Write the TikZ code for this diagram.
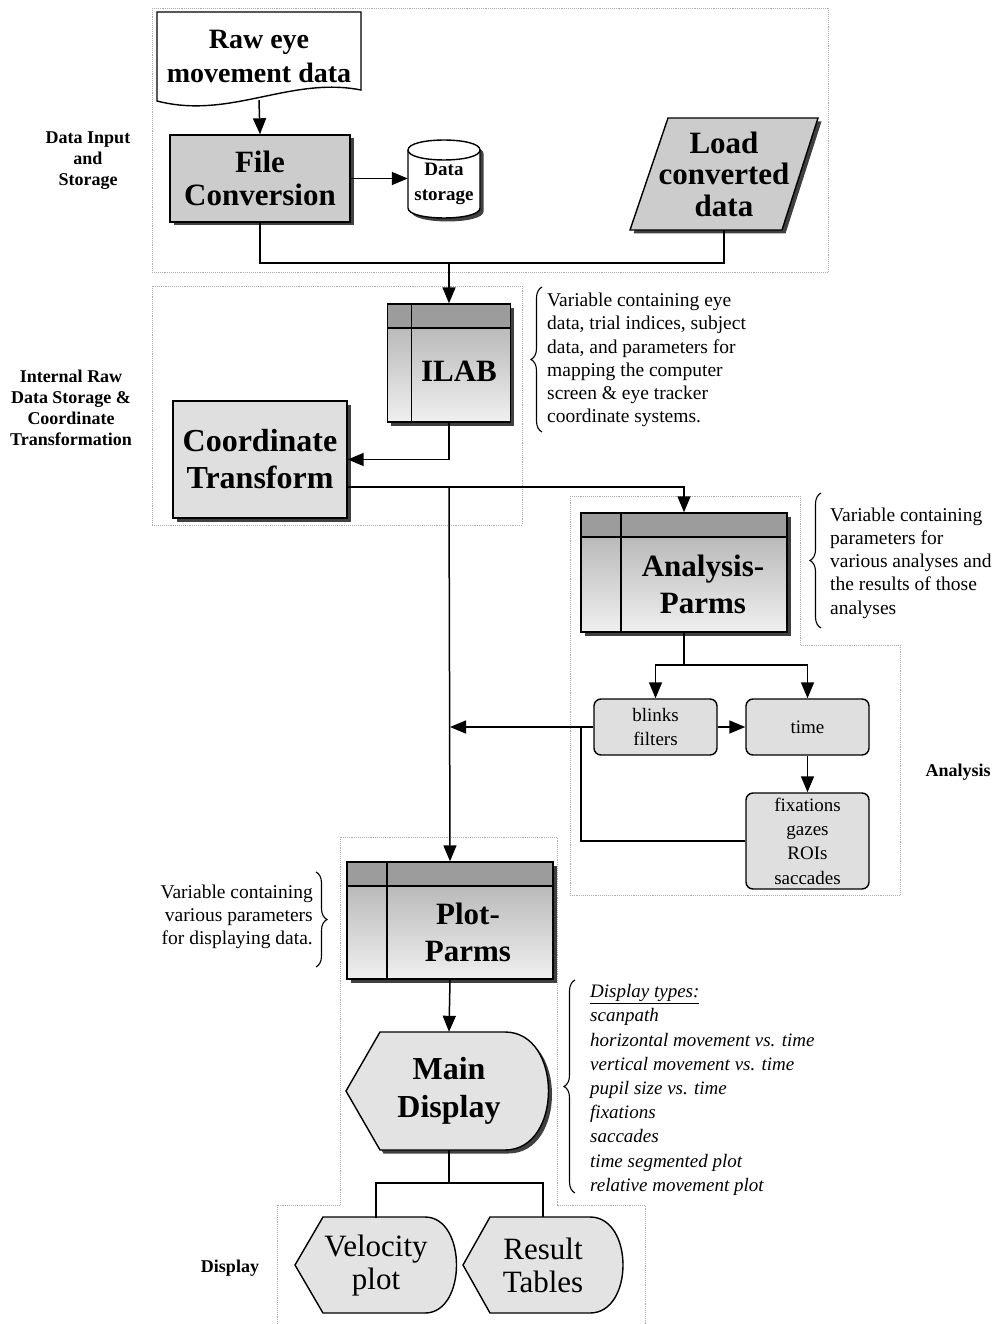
\documentclass[tikz,border=0pt]{standalone}
\usepackage{fontspec}
\setmainfont{Liberation Serif}
\usetikzlibrary{arrows.meta,shadows,decorations.pathreplacing,calc}
\begin{document}
\begin{tikzpicture}[x=1pt,y=-1pt,
  region/.style={draw=gray!65, densely dotted, line width=0.9pt},
  conn/.style={line width=1.5pt},
  arr/.style={conn, -{Triangle[length=16pt,width=13pt]}},
  shad/.style={drop shadow={shadow xshift=3.5pt, shadow yshift=-3.5pt, fill=black!75, opacity=1}},
  outl/.style={draw, line width=1.4pt},
  procbox/.style={outl, rectangle, inner sep=0, fill=gray!40, shad},
  tbl/.style={outl, rectangle, inner sep=0, top color=gray!65, bottom color=gray!12, shad,
     path picture={
       \fill[gray!78] (path picture bounding box.north west) rectangle ([yshift=-24pt]path picture bounding box.north east);
       \draw[line width=1.4pt] ([yshift=-24pt]path picture bounding box.north west) -- ([yshift=-24pt]path picture bounding box.north east);
       \draw[line width=1.4pt] ([xshift=#1]path picture bounding box.north west) -- ([xshift=#1]path picture bounding box.south west);
     }},
  rbox/.style={outl, rectangle, rounded corners=7pt, fill=gray!25, inner sep=0, font=\fontsize{19}{24.3}\selectfont, align=center},
  hb/.style={font=\fontsize{31}{37}\selectfont\bfseries, align=center, inner sep=0},
  note/.style={font=\fontsize{19.5}{23.3}\selectfont, inner sep=0},
  side/.style={font=\fontsize{18}{21}\selectfont\bfseries, align=center, inner sep=0},
  brc/.style={decorate, decoration={brace, amplitude=11pt}, line width=1.1pt}
]
\useasboundingbox (0,0) rectangle (996,1324);

% ---------- regions ----------
\draw[region] (152,8) rectangle (828,272);
\draw[region] (152,286) rectangle (522,525);
\draw[region] (570,496) -- (800,496) -- (800,645) -- (900,645) -- (900,895) -- (570,895) -- cycle;
\draw[region] (277,1324) -- (277,1205) -- (340,1205) -- (340,837) -- (557,837) -- (557,1205) -- (645,1205) -- (645,1324);

% ---------- side labels ----------
\node[side] (lab1) at (88,161) {Data Input\\and\\Storage};
\node[side] (lab2) at (71,408) {Internal Raw\\Data Storage \&\\Coordinate\\Transformation};
\node[side] (lab3) at (958,772) {Analysis};
\node[side] (lab4) at (230,1268) {Display};

% ---------- data input ----------
\draw[outl, fill=white] (157,12) -- (361,12) -- (361,90) .. controls (290,76) and (230,120) .. (157,101) -- cycle;
\node[font=\fontsize{28}{34}\selectfont\bfseries, align=center, minimum width=204, minimum height=88, inner sep=0] (raw) at (259,56) {Raw eye\\movement data};

\node[procbox, minimum width=180, minimum height=87, hb, font=\fontsize{31}{33}\selectfont\bfseries] (fc) at (260,178.5) {File\\Conversion};

\path[outl, fill=white, shad] (408,150) -- (408,208) .. controls (408,221.3) and (480,221.3) .. (480,208) -- (480,150) .. controls (480,136.7) and (408,136.7) .. (408,150) -- cycle;
\draw[line width=1.4pt] (408,150) .. controls (408,163.3) and (480,163.3) .. (480,150);
\node[font=\fontsize{19}{25}\selectfont\bfseries, align=center, minimum width=72, minimum height=78, inner sep=0] (ds) at (444,184) {Data\\storage};

\path[outl, fill=gray!40, shad] (668,118) -- (818,118) -- (782,230) -- (630,230) -- cycle;
\node[hb, font=\fontsize{31}{31.5}\selectfont\bfseries, minimum width=150, minimum height=112] (load) at (724,174) {Load\\converted\\data};

\coordinate (j1) at (449,263);
\draw[arr] (raw.south) -- (fc.north);
\draw[arr] (fc.east) -- (ds.west |- fc.east);
\draw[conn] (fc.south) |- (j1) -| (load.south);

% ---------- internal ----------
\node[tbl=24pt, minimum width=123, minimum height=118] (ilab) at (449,363) {};
\node[hb] (ilabt) at (459,371) {ILAB};
\node[procbox, fill=gray!25, minimum width=174, minimum height=117, font=\fontsize{32}{37}\selectfont\bfseries, align=center] (ct) at (260,459.5) {Coordinate\\Transform};

\draw[arr] (j1) -- (ilab.north);
\draw[arr] (ilab.south) |- (ct.east);

\draw[brc] (542,432) -- (542,287);
\node[note, anchor=west, align=left] (ilabn) at (547,360) {Variable containing eye\\data, trial indices, subject\\data, and parameters for\\mapping the computer\\screen \& eye tracker\\coordinate systems.};

\coordinate (j2) at (449,487);
% ---------- analysis ----------
\node[tbl=40pt, minimum width=206, minimum height=119] (ap) at (684,572.5) {};
\node[hb] (apt) at (703,584) {Analysis-\\Parms};
\draw[arr] (ct.east |- j2) -| (ap.north);

\draw[brc] (821,628) -- (821,493);
\node[note, anchor=west, align=left] (apn) at (830,563) {Variable containing\\parameters for\\various analyses and\\the results of those\\analyses};

\node[rbox, minimum width=123, minimum height=56] (bl) at (655.5,727) {blinks\\filters};
\node[rbox, minimum width=123, minimum height=56] (tm) at (807.5,727) {time};
\node[rbox, minimum width=123, minimum height=96] (fx) at (807.5,841) {fixations\\gazes\\ROIs\\saccades};

\coordinate (j3) at (684,665);
\coordinate (j4) at (450,727);
\coordinate (j5) at (581,727);
\draw[conn] (ap.south) -- (j3);
\draw[arr] (j3) -| (bl.north);
\draw[arr] (j3) -| (tm.north);
\draw[arr] (bl.east) -- (tm.west);
\draw[arr] (tm.south) -- (fx.north);
\draw[arr] (bl.west) -- (j4);
\draw[conn] (fx.west) -| (j5);

% ---------- display ----------
\node[tbl=40pt, minimum width=206, minimum height=117] (pp) at (450,920.5) {};
\node[hb] (ppt) at (468,932) {Plot-\\Parms};
\draw[arr] (j2) -- (pp.north);

\draw[brc] (316,872) -- (316,967);
\node[note, anchor=east, align=right] (ppn) at (313,917) {Variable containing\\various parameters\\for displaying data.};

\path[outl, fill=gray!22, shad] (346,1091) -- (380,1032) -- (505,1032) .. controls (563,1032) and (563,1150) .. (505,1150) -- (380,1150) -- cycle;
\node[hb, font=\fontsize{32}{38}\selectfont\bfseries, minimum width=204, minimum height=118] (md) at (449,1091) {Main\\Display};
\draw[arr] (pp.south) -- (md.north);

\draw[brc] (575,1193) -- (575,980);
\node[font=\fontsize{19}{24.2}\selectfont\itshape, inner sep=0, anchor=west, align=left] (dtn) at (590,1090) {\underline{Display types:}\\scanpath\\horizontal movement vs. time\\vertical movement vs. time\\pupil size vs. time\\fixations\\saccades\\time segmented plot\\relative movement plot};

\path[outl, fill=gray!22] (295,1265) -- (323,1217) -- (425,1217) .. controls (467,1217) and (467,1313) .. (425,1313) -- (323,1313) -- cycle;
\node[font=\fontsize{31}{33}\selectfont, align=center, minimum width=162, minimum height=96, inner sep=0] (vp) at (376,1266) {Velocity\\plot};
\path[outl, fill=gray!22] (463,1265) -- (490,1217) -- (590,1217) .. controls (634,1217) and (634,1313) .. (590,1313) -- (490,1313) -- cycle;
\node[font=\fontsize{31}{33}\selectfont, align=center, minimum width=160, minimum height=96, inner sep=0] (rt) at (543,1265) {Result\\Tables};

\coordinate (j6) at (449,1183);
\draw[conn] (md.south) -- (j6);
\draw[conn] (j6) -| (vp.north);
\draw[conn] (j6) -| (rt.north);
\end{tikzpicture}
\end{document}
